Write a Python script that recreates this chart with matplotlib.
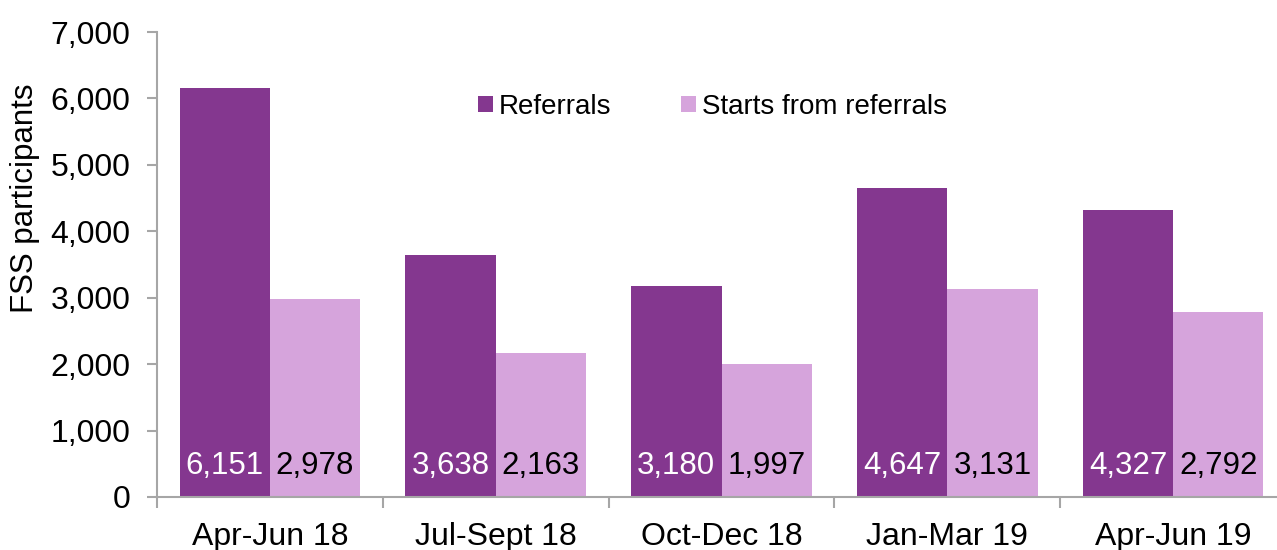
import matplotlib
matplotlib.use('Agg')
import matplotlib.pyplot as plt
import numpy as np

plt.rcParams['font.family'] = ['Liberation Sans', 'DejaVu Sans']

quarters = ['Apr-Jun 18', 'Jul-Sept 18', 'Oct-Dec 18', 'Jan-Mar 19', 'Apr-Jun 19']
referrals = [6151, 3638, 3180, 4647, 4327]
starts = [2978, 2163, 1997, 3131, 2792]

DARK = '#84378F'
LIGHT = '#D6A4DC'
GREY = '#A6A6A6'

fig = plt.figure(figsize=(12.77, 5.5), dpi=100)
ax = fig.add_axes([157/1277, 53/550, (1286-157)/1277, (497-32)/550])

x = np.arange(len(quarters))
w = 0.4
ax.bar(x - w/2, referrals, w, color=DARK, label='Referrals')
ax.bar(x + w/2, starts, w, color=LIGHT, label='Starts from referrals')

# value labels sit at the bottom of each bar
for xi, v in zip(x, referrals):
    ax.text(xi - w/2, 470, f'{v:,}', ha='center', va='center', fontsize=22.5, color='white')
for xi, v in zip(x, starts):
    ax.text(xi + w/2, 470, f'{v:,}', ha='center', va='center', fontsize=22.5, color='black')

ax.set_xlim(-0.5, len(quarters) - 0.5)
ax.set_ylim(0, 7000)
ax.set_yticks(range(0, 7001, 1000))
ax.set_yticklabels([f'{v:,}' for v in range(0, 7001, 1000)], fontsize=23)
ax.set_ylabel('FSS participants', fontsize=22.5)
ax.yaxis.set_label_coords(-0.104, 0.643)

ax.set_xticks(x)
ax.set_xticklabels(quarters, fontsize=23)
ax.tick_params(axis='x', length=0, pad=18)
ax.set_xticks(np.arange(-0.5, len(quarters), 1), minor=True)
ax.tick_params(axis='x', which='minor', length=8, width=1.5, color=GREY, direction='out')
ax.tick_params(axis='y', length=7, width=1.5, color=GREY, pad=12)

for s in ['top', 'right']:
    ax.spines[s].set_visible(False)
for s in ['left', 'bottom']:
    ax.spines[s].set_color(GREY)
    ax.spines[s].set_linewidth(1.5)

ax.legend(loc='center', bbox_to_anchor=(0.492, 0.839), ncol=2, frameon=False,
          fontsize=20, handlelength=0.55, handleheight=0.55, handletextpad=0.2,
          columnspacing=2.5)

fig.savefig('out.png', dpi=100, facecolor='white')
